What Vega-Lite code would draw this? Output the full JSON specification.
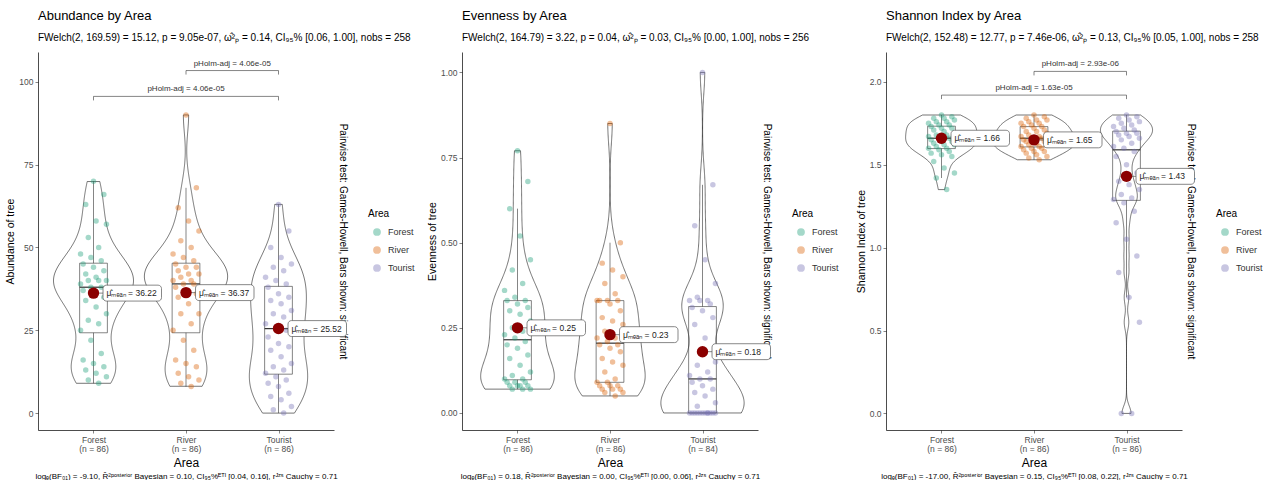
{
"$schema": "https://vega.github.io/schema/vega-lite/v6.json",
"padding": {"left": 5, "top": 10, "right": 0, "bottom": 0},
"autosize": {"type": "pad"},
"background": "white",
"bounds": "flush",
"spacing": 128,
"resolve": {"scale": {"color": "independent"}, "legend": {"color": "independent"}},
"datasets": {
"abund": [
{"a":"Forest","v":9},{"a":"Forest","v":10},{"a":"Forest","v":11},{"a":"Forest","v":12},{"a":"Forest","v":13},{"a":"Forest","v":14},{"a":"Forest","v":15},{"a":"Forest","v":16},{"a":"Forest","v":18},{"a":"Forest","v":22},{"a":"Forest","v":25},{"a":"Forest","v":27},{"a":"Forest","v":28},{"a":"Forest","v":30},{"a":"Forest","v":32},{"a":"Forest","v":34},{"a":"Forest","v":35},{"a":"Forest","v":36},{"a":"Forest","v":37},{"a":"Forest","v":38},{"a":"Forest","v":38},{"a":"Forest","v":39},{"a":"Forest","v":40},{"a":"Forest","v":40},{"a":"Forest","v":40},{"a":"Forest","v":41},{"a":"Forest","v":42},{"a":"Forest","v":43},{"a":"Forest","v":44},{"a":"Forest","v":45},{"a":"Forest","v":46},{"a":"Forest","v":47},{"a":"Forest","v":48},{"a":"Forest","v":50},{"a":"Forest","v":53},{"a":"Forest","v":57},{"a":"Forest","v":58},{"a":"Forest","v":63},{"a":"Forest","v":66},{"a":"Forest","v":70},
{"a":"River","v":8},{"a":"River","v":9},{"a":"River","v":10},{"a":"River","v":11},{"a":"River","v":12},{"a":"River","v":14},{"a":"River","v":15},{"a":"River","v":16},{"a":"River","v":19},{"a":"River","v":22},{"a":"River","v":25},{"a":"River","v":27},{"a":"River","v":30},{"a":"River","v":30},{"a":"River","v":33},{"a":"River","v":35},{"a":"River","v":36},{"a":"River","v":37},{"a":"River","v":38},{"a":"River","v":39},{"a":"River","v":39},{"a":"River","v":40},{"a":"River","v":40},{"a":"River","v":41},{"a":"River","v":42},{"a":"River","v":42},{"a":"River","v":43},{"a":"River","v":44},{"a":"River","v":44},{"a":"River","v":45},{"a":"River","v":46},{"a":"River","v":47},{"a":"River","v":48},{"a":"River","v":50},{"a":"River","v":52},{"a":"River","v":55},{"a":"River","v":58},{"a":"River","v":62},{"a":"River","v":68},{"a":"River","v":90},
{"a":"Tourist","v":0},{"a":"Tourist","v":1},{"a":"Tourist","v":2},{"a":"Tourist","v":4},{"a":"Tourist","v":5},{"a":"Tourist","v":6},{"a":"Tourist","v":8},{"a":"Tourist","v":9},{"a":"Tourist","v":10},{"a":"Tourist","v":11},{"a":"Tourist","v":12},{"a":"Tourist","v":13},{"a":"Tourist","v":14},{"a":"Tourist","v":15},{"a":"Tourist","v":17},{"a":"Tourist","v":19},{"a":"Tourist","v":20},{"a":"Tourist","v":21},{"a":"Tourist","v":23},{"a":"Tourist","v":25},{"a":"Tourist","v":26},{"a":"Tourist","v":27},{"a":"Tourist","v":29},{"a":"Tourist","v":30},{"a":"Tourist","v":31},{"a":"Tourist","v":33},{"a":"Tourist","v":34},{"a":"Tourist","v":35},{"a":"Tourist","v":36},{"a":"Tourist","v":38},{"a":"Tourist","v":39},{"a":"Tourist","v":40},{"a":"Tourist","v":41},{"a":"Tourist","v":43},{"a":"Tourist","v":44},{"a":"Tourist","v":45},{"a":"Tourist","v":47},{"a":"Tourist","v":50},{"a":"Tourist","v":55},{"a":"Tourist","v":63}
],
"even": [
{"a":"Forest","v":0.07},{"a":"Forest","v":0.07},{"a":"Forest","v":0.07},{"a":"Forest","v":0.08},{"a":"Forest","v":0.08},{"a":"Forest","v":0.08},{"a":"Forest","v":0.08},{"a":"Forest","v":0.09},{"a":"Forest","v":0.09},{"a":"Forest","v":0.09},{"a":"Forest","v":0.10},{"a":"Forest","v":0.10},{"a":"Forest","v":0.11},{"a":"Forest","v":0.12},{"a":"Forest","v":0.14},{"a":"Forest","v":0.16},{"a":"Forest","v":0.17},{"a":"Forest","v":0.19},{"a":"Forest","v":0.20},{"a":"Forest","v":0.21},{"a":"Forest","v":0.22},{"a":"Forest","v":0.23},{"a":"Forest","v":0.24},{"a":"Forest","v":0.25},{"a":"Forest","v":0.27},{"a":"Forest","v":0.29},{"a":"Forest","v":0.30},{"a":"Forest","v":0.31},{"a":"Forest","v":0.32},{"a":"Forest","v":0.33},{"a":"Forest","v":0.33},{"a":"Forest","v":0.34},{"a":"Forest","v":0.36},{"a":"Forest","v":0.38},{"a":"Forest","v":0.42},{"a":"Forest","v":0.45},{"a":"Forest","v":0.52},{"a":"Forest","v":0.60},{"a":"Forest","v":0.68},{"a":"Forest","v":0.77},
{"a":"River","v":0.05},{"a":"River","v":0.06},{"a":"River","v":0.06},{"a":"River","v":0.07},{"a":"River","v":0.07},{"a":"River","v":0.07},{"a":"River","v":0.08},{"a":"River","v":0.08},{"a":"River","v":0.08},{"a":"River","v":0.09},{"a":"River","v":0.09},{"a":"River","v":0.10},{"a":"River","v":0.12},{"a":"River","v":0.14},{"a":"River","v":0.15},{"a":"River","v":0.16},{"a":"River","v":0.18},{"a":"River","v":0.19},{"a":"River","v":0.20},{"a":"River","v":0.20},{"a":"River","v":0.21},{"a":"River","v":0.22},{"a":"River","v":0.22},{"a":"River","v":0.24},{"a":"River","v":0.26},{"a":"River","v":0.27},{"a":"River","v":0.28},{"a":"River","v":0.30},{"a":"River","v":0.32},{"a":"River","v":0.33},{"a":"River","v":0.33},{"a":"River","v":0.33},{"a":"River","v":0.33},{"a":"River","v":0.35},{"a":"River","v":0.38},{"a":"River","v":0.40},{"a":"River","v":0.42},{"a":"River","v":0.44},{"a":"River","v":0.50},{"a":"River","v":0.85},
{"a":"Tourist","v":0},{"a":"Tourist","v":0},{"a":"Tourist","v":0},{"a":"Tourist","v":0},{"a":"Tourist","v":0},{"a":"Tourist","v":0},{"a":"Tourist","v":0},{"a":"Tourist","v":0},{"a":"Tourist","v":0},{"a":"Tourist","v":0},{"a":"Tourist","v":0},{"a":"Tourist","v":0},{"a":"Tourist","v":0.02},{"a":"Tourist","v":0.03},{"a":"Tourist","v":0.05},{"a":"Tourist","v":0.06},{"a":"Tourist","v":0.07},{"a":"Tourist","v":0.08},{"a":"Tourist","v":0.09},{"a":"Tourist","v":0.10},{"a":"Tourist","v":0.10},{"a":"Tourist","v":0.11},{"a":"Tourist","v":0.12},{"a":"Tourist","v":0.14},{"a":"Tourist","v":0.15},{"a":"Tourist","v":0.22},{"a":"Tourist","v":0.26},{"a":"Tourist","v":0.28},{"a":"Tourist","v":0.30},{"a":"Tourist","v":0.31},{"a":"Tourist","v":0.32},{"a":"Tourist","v":0.33},{"a":"Tourist","v":0.33},{"a":"Tourist","v":0.33},{"a":"Tourist","v":0.34},{"a":"Tourist","v":0.38},{"a":"Tourist","v":0.45},{"a":"Tourist","v":0.55},{"a":"Tourist","v":0.67},{"a":"Tourist","v":1.00}
],
"shan": [
{"a":"Forest","v":1.35},{"a":"Forest","v":1.42},{"a":"Forest","v":1.45},{"a":"Forest","v":1.48},{"a":"Forest","v":1.52},{"a":"Forest","v":1.55},{"a":"Forest","v":1.56},{"a":"Forest","v":1.57},{"a":"Forest","v":1.58},{"a":"Forest","v":1.59},{"a":"Forest","v":1.60},{"a":"Forest","v":1.60},{"a":"Forest","v":1.61},{"a":"Forest","v":1.62},{"a":"Forest","v":1.62},{"a":"Forest","v":1.63},{"a":"Forest","v":1.64},{"a":"Forest","v":1.64},{"a":"Forest","v":1.65},{"a":"Forest","v":1.66},{"a":"Forest","v":1.66},{"a":"Forest","v":1.67},{"a":"Forest","v":1.68},{"a":"Forest","v":1.68},{"a":"Forest","v":1.69},{"a":"Forest","v":1.70},{"a":"Forest","v":1.71},{"a":"Forest","v":1.72},{"a":"Forest","v":1.72},{"a":"Forest","v":1.73},{"a":"Forest","v":1.74},{"a":"Forest","v":1.74},{"a":"Forest","v":1.75},{"a":"Forest","v":1.76},{"a":"Forest","v":1.76},{"a":"Forest","v":1.77},{"a":"Forest","v":1.78},{"a":"Forest","v":1.78},{"a":"Forest","v":1.79},{"a":"Forest","v":1.80},
{"a":"River","v":1.53},{"a":"River","v":1.54},{"a":"River","v":1.55},{"a":"River","v":1.56},{"a":"River","v":1.57},{"a":"River","v":1.58},{"a":"River","v":1.58},{"a":"River","v":1.59},{"a":"River","v":1.60},{"a":"River","v":1.60},{"a":"River","v":1.61},{"a":"River","v":1.61},{"a":"River","v":1.62},{"a":"River","v":1.63},{"a":"River","v":1.63},{"a":"River","v":1.64},{"a":"River","v":1.64},{"a":"River","v":1.65},{"a":"River","v":1.65},{"a":"River","v":1.66},{"a":"River","v":1.66},{"a":"River","v":1.67},{"a":"River","v":1.67},{"a":"River","v":1.68},{"a":"River","v":1.69},{"a":"River","v":1.70},{"a":"River","v":1.70},{"a":"River","v":1.71},{"a":"River","v":1.72},{"a":"River","v":1.73},{"a":"River","v":1.73},{"a":"River","v":1.74},{"a":"River","v":1.75},{"a":"River","v":1.75},{"a":"River","v":1.76},{"a":"River","v":1.77},{"a":"River","v":1.77},{"a":"River","v":1.78},{"a":"River","v":1.79},{"a":"River","v":1.80},
{"a":"Tourist","v":0},{"a":"Tourist","v":0},{"a":"Tourist","v":0.55},{"a":"Tourist","v":0.70},{"a":"Tourist","v":0.85},{"a":"Tourist","v":0.95},{"a":"Tourist","v":1.05},{"a":"Tourist","v":1.15},{"a":"Tourist","v":1.22},{"a":"Tourist","v":1.27},{"a":"Tourist","v":1.29},{"a":"Tourist","v":1.30},{"a":"Tourist","v":1.32},{"a":"Tourist","v":1.35},{"a":"Tourist","v":1.38},{"a":"Tourist","v":1.40},{"a":"Tourist","v":1.45},{"a":"Tourist","v":1.50},{"a":"Tourist","v":1.55},{"a":"Tourist","v":1.58},{"a":"Tourist","v":1.60},{"a":"Tourist","v":1.61},{"a":"Tourist","v":1.63},{"a":"Tourist","v":1.65},{"a":"Tourist","v":1.66},{"a":"Tourist","v":1.67},{"a":"Tourist","v":1.68},{"a":"Tourist","v":1.69},{"a":"Tourist","v":1.69},{"a":"Tourist","v":1.70},{"a":"Tourist","v":1.71},{"a":"Tourist","v":1.72},{"a":"Tourist","v":1.73},{"a":"Tourist","v":1.74},{"a":"Tourist","v":1.75},{"a":"Tourist","v":1.76},{"a":"Tourist","v":1.77},{"a":"Tourist","v":1.78},{"a":"Tourist","v":1.79},{"a":"Tourist","v":1.80}
],
"means": [
{"p":"A","a":"Forest","m":36.22},{"p":"A","a":"River","m":36.37},{"p":"A","a":"Tourist","m":25.52},
{"p":"E","a":"Forest","m":0.25},{"p":"E","a":"River","m":0.23},{"p":"E","a":"Tourist","m":0.18},
{"p":"S","a":"Forest","m":1.66},{"p":"S","a":"River","m":1.65},{"p":"S","a":"Tourist","m":1.43}
],
"brackets": [
{"p":"A","from":"River","to":"Tourist","yb":103.4,"lab":"pHolm-adj = 4.06e-05"},
{"p":"A","from":"Forest","to":"Tourist","yb":95.6,"lab":"pHolm-adj = 4.06e-05"},
{"p":"S","from":"River","to":"Tourist","yb":2.063,"lab":"pHolm-adj = 2.93e-06"},
{"p":"S","from":"Forest","to":"Tourist","yb":1.92,"lab":"pHolm-adj = 1.63e-05"}
]
},
"hconcat": [
{
"width": 296, "height": 378,
"title": {"text": "Abundance by Area", "subtitle": "FWelch(2, 169.59) = 15.12, p = 9.05e-07, ω̂²ₚ = 0.14, CI₉₅% [0.06, 1.00], nobs = 258"},
"data": {"name": "abund"},
"resolve": {"axis": {"x": "independent", "y": "independent"}},
"layer": [
{
"transform": [
{"joinaggregate": [{"op": "min", "field": "v", "as": "lo"}, {"op": "max", "field": "v", "as": "hi"}], "groupby": ["a"]},
{"density": "v", "groupby": ["a", "lo", "hi"], "bandwidth": 5.5, "steps": 300, "as": ["v", "d"]},
{"filter": "datum.v >= datum.lo && datum.v <= datum.hi"},
{"joinaggregate": [{"op": "max", "field": "d", "as": "md"}]},
{"calculate": "indexof(['Forest','River','Tourist'], datum.a) + 1", "as": "g"},
{"calculate": "datum.g - 0.45 * datum.d / datum.md", "as": "xl"},
{"calculate": "datum.g + 0.45 * datum.d / datum.md", "as": "xr"}
],
"mark": {"type": "area", "orient": "horizontal", "fillOpacity": 0, "stroke": "#1a1a1a", "strokeWidth": 0.6},
"encoding": {"y": {"field": "v", "type": "quantitative", "axis": null}, "x": {"field": "xl", "type": "quantitative", "axis": null}, "x2": {"field": "xr"}, "detail": {"field": "a"}}
},
{
"transform": [
{"joinaggregate": [{"op": "q1", "field": "v", "as": "q1"}, {"op": "median", "field": "v", "as": "med"}, {"op": "q3", "field": "v", "as": "q3"}], "groupby": ["a"]},
{"filter": "datum.v >= datum.q1 - 1.5*(datum.q3-datum.q1) && datum.v <= datum.q3 + 1.5*(datum.q3-datum.q1)"},
{"aggregate": [{"op": "min", "field": "v", "as": "lo"}, {"op": "max", "field": "v", "as": "hi"}, {"op": "max", "field": "q1", "as": "q1"}, {"op": "max", "field": "med", "as": "med"}, {"op": "max", "field": "q3", "as": "q3"}], "groupby": ["a"]},
{"calculate": "indexof(['Forest','River','Tourist'], datum.a) + 1", "as": "g"},
{"calculate": "datum.g - 0.15", "as": "b1"},
{"calculate": "datum.g + 0.15", "as": "b2"}
],
"layer": [
{"mark": {"type": "rect", "fillOpacity": 0, "stroke": "#333", "strokeWidth": 0.6}, "encoding": {"x": {"field": "b1", "type": "quantitative", "axis": null}, "x2": {"field": "b2"}, "y": {"field": "q1", "type": "quantitative", "axis": null}, "y2": {"field": "q3"}}},
{"mark": {"type": "rule", "color": "#333", "strokeWidth": 1.2}, "encoding": {"x": {"field": "b1", "type": "quantitative", "axis": null}, "x2": {"field": "b2"}, "y": {"field": "med", "type": "quantitative", "axis": null}}},
{"mark": {"type": "rule", "color": "#333", "strokeWidth": 0.6}, "encoding": {"x": {"field": "g", "type": "quantitative", "axis": null}, "y": {"field": "lo", "type": "quantitative", "axis": null}, "y2": {"field": "q1"}}},
{"mark": {"type": "rule", "color": "#333", "strokeWidth": 0.6}, "encoding": {"x": {"field": "g", "type": "quantitative", "axis": null}, "y": {"field": "q3", "type": "quantitative", "axis": null}, "y2": {"field": "hi"}}}
]
},
{
"transform": [
{"window": [{"op": "row_number", "as": "i"}], "groupby": ["a"]},
{"calculate": "indexof(['Forest','River','Tourist'], datum.a) + 1", "as": "g"},
{"calculate": "datum.g + ((datum.i * 7) % 11 - 5) * 0.028", "as": "xj"}
],
"mark": {"type": "circle", "size": 30, "opacity": 0.4},
"encoding": {
"x": {"field": "xj", "type": "quantitative", "scale": {"domain": [0.4, 3.6], "nice": false, "zero": false}, "axis": {"values": [1, 2, 3], "title": "Area", "titleFontSize": 12, "titlePadding": 4, "labelLineHeight": 9.5, "labelExpr": "datum.value == 1 ? ['Forest', '(n = 86)'] : datum.value == 2 ? ['River', '(n = 86)'] : ['Tourist', '(n = 86)']"}},
"y": {"field": "v", "type": "quantitative", "scale": {"domain": [-5.1, 109], "nice": false, "zero": false}, "axis": {"values": [0, 25, 50, 75, 100], "title": "Abundance of tree", "titlePadding": 3}},
"color": {"field": "a", "type": "nominal", "scale": {"domain": ["Forest", "River", "Tourist"], "range": ["#1B9E77", "#D95F02", "#7570B3"]}, "legend": {"title": "Area", "orient": "none", "legendX": 330, "legendY": 157}}
}
},
{
"data": {"name": "means"},
"transform": [{"filter": "datum.p == 'A'"}, {"calculate": "indexof(['Forest','River','Tourist'], datum.a) + 1", "as": "g"}],
"mark": {"type": "point", "shape": "M0,0H0.14M0.19,-0.117H0.95A0.05,0.05 0 0 1 1,-0.067V0.067A0.05,0.05 0 0 1 0.95,0.117H0.19A0.05,0.05 0 0 1 0.14,0.067V-0.067A0.05,0.05 0 0 1 0.19,-0.117Z", "size": 18496, "filled": true, "fill": "white", "stroke": "#555", "strokeWidth": 0.7, "opacity": 1},
"encoding": {"x": {"field": "g", "type": "quantitative", "axis": null}, "y": {"field": "m", "type": "quantitative", "axis": null}}
},
{
"data": {"name": "means"},
"transform": [{"filter": "datum.p == 'A'"}, {"calculate": "indexof(['Forest','River','Tourist'], datum.a) + 1", "as": "g"}],
"mark": {"type": "circle", "size": 130, "color": "#8B0000", "opacity": 1},
"encoding": {"x": {"field": "g", "type": "quantitative", "axis": null}, "y": {"field": "m", "type": "quantitative", "axis": null}}
},
{
"data": {"name": "means"},
"transform": [{"filter": "datum.p == 'A'"}, {"calculate": "indexof(['Forest','River','Tourist'], datum.a) + 1", "as": "g"}, {"calculate": "'μ̂ₘₑₐₙ = ' + format(datum.m, '.2f')", "as": "lab"}],
"mark": {"type": "text", "align": "left", "baseline": "middle", "dx": 13, "fontSize": 8.5, "color": "#222"},
"encoding": {
"x": {"field": "g", "type": "quantitative", "axis": {"orient": "bottom", "title": "logₑ(BF₀₁) = -9.10, R̂²ᵖᵒˢᵗᵉʳⁱᵒʳ Bayesian = 0.10, CI₉₅%ᴱᵀᴵ [0.04, 0.16], rᴶᶻˢ Cauchy = 0.71", "labels": false, "ticks": false, "domain": false, "titlePadding": 42, "titleFontSize": 8}},
"y": {"field": "m", "type": "quantitative", "axis": {"orient": "right", "title": "Pairwise test: Games-Howell, Bars shown: significant", "labels": false, "ticks": false, "domain": false, "titlePadding": 3, "titleFontSize": 10, "titleLimit": 500}},
"text": {"field": "lab"}
}
},
{
"data": {"name": "brackets"},
"transform": [{"filter": "datum.p == 'A'"}, {"calculate": "indexof(['Forest','River','Tourist'], datum.from) + 1", "as": "g1"}, {"calculate": "indexof(['Forest','River','Tourist'], datum.to) + 1", "as": "g2"}],
"layer": [
{"mark": {"type": "rule", "color": "#333", "strokeWidth": 0.6}, "encoding": {"x": {"field": "g1", "type": "quantitative", "axis": null}, "x2": {"field": "g2"}, "y": {"field": "yb", "type": "quantitative", "axis": null}}},
{"transform": [{"fold": ["g1", "g2"], "as": ["k", "gx"]}], "mark": {"type": "point", "shape": "M0,0V1", "size": 64, "filled": false, "stroke": "#333", "strokeWidth": 0.6, "opacity": 1}, "encoding": {"x": {"field": "gx", "type": "quantitative", "axis": null}, "y": {"field": "yb", "type": "quantitative", "axis": null}}},
{"transform": [{"calculate": "(datum.g1 + datum.g2) / 2", "as": "xm"}], "mark": {"type": "text", "dy": -7, "fontSize": 8, "color": "#333"}, "encoding": {"x": {"field": "xm", "type": "quantitative", "axis": null}, "y": {"field": "yb", "type": "quantitative", "axis": null}, "text": {"field": "lab"}}}
]
}
]
},
{
"width": 296, "height": 378,
"title": {"text": "Evenness by Area", "subtitle": "FWelch(2, 164.79) = 3.22, p = 0.04, ω̂²ₚ = 0.03, CI₉₅% [0.00, 1.00], nobs = 256"},
"data": {"name": "even"},
"resolve": {"axis": {"x": "independent", "y": "independent"}},
"layer": [
{
"transform": [
{"joinaggregate": [{"op": "min", "field": "v", "as": "lo"}, {"op": "max", "field": "v", "as": "hi"}], "groupby": ["a"]},
{"density": "v", "groupby": ["a", "lo", "hi"], "bandwidth": 0.06, "steps": 300, "as": ["v", "d"]},
{"filter": "datum.v >= datum.lo && datum.v <= datum.hi"},
{"joinaggregate": [{"op": "max", "field": "d", "as": "md"}]},
{"calculate": "indexof(['Forest','River','Tourist'], datum.a) + 1", "as": "g"},
{"calculate": "datum.g - 0.45 * datum.d / datum.md", "as": "xl"},
{"calculate": "datum.g + 0.45 * datum.d / datum.md", "as": "xr"}
],
"mark": {"type": "area", "orient": "horizontal", "fillOpacity": 0, "stroke": "#1a1a1a", "strokeWidth": 0.6},
"encoding": {"y": {"field": "v", "type": "quantitative", "axis": null}, "x": {"field": "xl", "type": "quantitative", "axis": null}, "x2": {"field": "xr"}, "detail": {"field": "a"}}
},
{
"transform": [
{"joinaggregate": [{"op": "q1", "field": "v", "as": "q1"}, {"op": "median", "field": "v", "as": "med"}, {"op": "q3", "field": "v", "as": "q3"}], "groupby": ["a"]},
{"filter": "datum.v >= datum.q1 - 1.5*(datum.q3-datum.q1) && datum.v <= datum.q3 + 1.5*(datum.q3-datum.q1)"},
{"aggregate": [{"op": "min", "field": "v", "as": "lo"}, {"op": "max", "field": "v", "as": "hi"}, {"op": "max", "field": "q1", "as": "q1"}, {"op": "max", "field": "med", "as": "med"}, {"op": "max", "field": "q3", "as": "q3"}], "groupby": ["a"]},
{"calculate": "indexof(['Forest','River','Tourist'], datum.a) + 1", "as": "g"},
{"calculate": "datum.g - 0.15", "as": "b1"},
{"calculate": "datum.g + 0.15", "as": "b2"}
],
"layer": [
{"mark": {"type": "rect", "fillOpacity": 0, "stroke": "#333", "strokeWidth": 0.6}, "encoding": {"x": {"field": "b1", "type": "quantitative", "axis": null}, "x2": {"field": "b2"}, "y": {"field": "q1", "type": "quantitative", "axis": null}, "y2": {"field": "q3"}}},
{"mark": {"type": "rule", "color": "#333", "strokeWidth": 1.2}, "encoding": {"x": {"field": "b1", "type": "quantitative", "axis": null}, "x2": {"field": "b2"}, "y": {"field": "med", "type": "quantitative", "axis": null}}},
{"mark": {"type": "rule", "color": "#333", "strokeWidth": 0.6}, "encoding": {"x": {"field": "g", "type": "quantitative", "axis": null}, "y": {"field": "lo", "type": "quantitative", "axis": null}, "y2": {"field": "q1"}}},
{"mark": {"type": "rule", "color": "#333", "strokeWidth": 0.6}, "encoding": {"x": {"field": "g", "type": "quantitative", "axis": null}, "y": {"field": "q3", "type": "quantitative", "axis": null}, "y2": {"field": "hi"}}}
]
},
{
"transform": [
{"window": [{"op": "row_number", "as": "i"}], "groupby": ["a"]},
{"calculate": "indexof(['Forest','River','Tourist'], datum.a) + 1", "as": "g"},
{"calculate": "datum.g + ((datum.i * 7) % 11 - 5) * 0.028", "as": "xj"}
],
"mark": {"type": "circle", "size": 30, "opacity": 0.4},
"encoding": {
"x": {"field": "xj", "type": "quantitative", "scale": {"domain": [0.4, 3.6], "nice": false, "zero": false}, "axis": {"values": [1, 2, 3], "title": "Area", "titleFontSize": 12, "titlePadding": 4, "labelLineHeight": 9.5, "labelExpr": "datum.value == 1 ? ['Forest', '(n = 86)'] : datum.value == 2 ? ['River', '(n = 86)'] : ['Tourist', '(n = 84)']"}},
"y": {"field": "v", "type": "quantitative", "scale": {"domain": [-0.05, 1.06], "nice": false, "zero": false}, "axis": {"values": [0, 0.25, 0.5, 0.75, 1], "format": ".2f", "title": "Evenness of tree", "titlePadding": 3}},
"color": {"field": "a", "type": "nominal", "scale": {"domain": ["Forest", "River", "Tourist"], "range": ["#1B9E77", "#D95F02", "#7570B3"]}, "legend": {"title": "Area", "orient": "none", "legendX": 330, "legendY": 157}}
}
},
{
"data": {"name": "means"},
"transform": [{"filter": "datum.p == 'E'"}, {"calculate": "indexof(['Forest','River','Tourist'], datum.a) + 1", "as": "g"}],
"mark": {"type": "point", "shape": "M0,0H0.14M0.19,-0.117H0.95A0.05,0.05 0 0 1 1,-0.067V0.067A0.05,0.05 0 0 1 0.95,0.117H0.19A0.05,0.05 0 0 1 0.14,0.067V-0.067A0.05,0.05 0 0 1 0.19,-0.117Z", "size": 18496, "filled": true, "fill": "white", "stroke": "#555", "strokeWidth": 0.7, "opacity": 1},
"encoding": {"x": {"field": "g", "type": "quantitative", "axis": null}, "y": {"field": "m", "type": "quantitative", "axis": null}}
},
{
"data": {"name": "means"},
"transform": [{"filter": "datum.p == 'E'"}, {"calculate": "indexof(['Forest','River','Tourist'], datum.a) + 1", "as": "g"}],
"mark": {"type": "circle", "size": 130, "color": "#8B0000", "opacity": 1},
"encoding": {"x": {"field": "g", "type": "quantitative", "axis": null}, "y": {"field": "m", "type": "quantitative", "axis": null}}
},
{
"data": {"name": "means"},
"transform": [{"filter": "datum.p == 'E'"}, {"calculate": "indexof(['Forest','River','Tourist'], datum.a) + 1", "as": "g"}, {"calculate": "'μ̂ₘₑₐₙ = ' + format(datum.m, '.2f')", "as": "lab"}],
"mark": {"type": "text", "align": "left", "baseline": "middle", "dx": 13, "fontSize": 8.5, "color": "#222"},
"encoding": {
"x": {"field": "g", "type": "quantitative", "axis": {"orient": "bottom", "title": "logₑ(BF₀₁) = 0.18, R̂²ᵖᵒˢᵗᵉʳⁱᵒʳ Bayesian = 0.00, CI₉₅%ᴱᵀᴵ [0.00, 0.06], rᴶᶻˢ Cauchy = 0.71", "labels": false, "ticks": false, "domain": false, "titlePadding": 42, "titleFontSize": 8}},
"y": {"field": "m", "type": "quantitative", "axis": {"orient": "right", "title": "Pairwise test: Games-Howell, Bars shown: significant", "labels": false, "ticks": false, "domain": false, "titlePadding": 3, "titleFontSize": 10, "titleLimit": 500}},
"text": {"field": "lab"}
}
}
]
},
{
"width": 296, "height": 378,
"title": {"text": "Shannon Index by Area", "subtitle": "FWelch(2, 152.48) = 12.77, p = 7.46e-06, ω̂²ₚ = 0.13, CI₉₅% [0.05, 1.00], nobs = 258"},
"data": {"name": "shan"},
"resolve": {"axis": {"x": "independent", "y": "independent"}},
"layer": [
{
"transform": [
{"joinaggregate": [{"op": "min", "field": "v", "as": "lo"}, {"op": "max", "field": "v", "as": "hi"}], "groupby": ["a"]},
{"density": "v", "groupby": ["a", "lo", "hi"], "bandwidth": 0.045, "steps": 400, "as": ["v", "d"]},
{"filter": "datum.v >= datum.lo && datum.v <= datum.hi"},
{"joinaggregate": [{"op": "max", "field": "d", "as": "md"}]},
{"calculate": "indexof(['Forest','River','Tourist'], datum.a) + 1", "as": "g"},
{"calculate": "datum.g - 0.45 * datum.d / datum.md", "as": "xl"},
{"calculate": "datum.g + 0.45 * datum.d / datum.md", "as": "xr"}
],
"mark": {"type": "area", "orient": "horizontal", "fillOpacity": 0, "stroke": "#1a1a1a", "strokeWidth": 0.6},
"encoding": {"y": {"field": "v", "type": "quantitative", "axis": null}, "x": {"field": "xl", "type": "quantitative", "axis": null}, "x2": {"field": "xr"}, "detail": {"field": "a"}}
},
{
"transform": [
{"joinaggregate": [{"op": "q1", "field": "v", "as": "q1"}, {"op": "median", "field": "v", "as": "med"}, {"op": "q3", "field": "v", "as": "q3"}], "groupby": ["a"]},
{"filter": "datum.v >= datum.q1 - 1.5*(datum.q3-datum.q1) && datum.v <= datum.q3 + 1.5*(datum.q3-datum.q1)"},
{"aggregate": [{"op": "min", "field": "v", "as": "lo"}, {"op": "max", "field": "v", "as": "hi"}, {"op": "max", "field": "q1", "as": "q1"}, {"op": "max", "field": "med", "as": "med"}, {"op": "max", "field": "q3", "as": "q3"}], "groupby": ["a"]},
{"calculate": "indexof(['Forest','River','Tourist'], datum.a) + 1", "as": "g"},
{"calculate": "datum.g - 0.15", "as": "b1"},
{"calculate": "datum.g + 0.15", "as": "b2"}
],
"layer": [
{"mark": {"type": "rect", "fillOpacity": 0, "stroke": "#333", "strokeWidth": 0.6}, "encoding": {"x": {"field": "b1", "type": "quantitative", "axis": null}, "x2": {"field": "b2"}, "y": {"field": "q1", "type": "quantitative", "axis": null}, "y2": {"field": "q3"}}},
{"mark": {"type": "rule", "color": "#333", "strokeWidth": 1.2}, "encoding": {"x": {"field": "b1", "type": "quantitative", "axis": null}, "x2": {"field": "b2"}, "y": {"field": "med", "type": "quantitative", "axis": null}}},
{"mark": {"type": "rule", "color": "#333", "strokeWidth": 0.6}, "encoding": {"x": {"field": "g", "type": "quantitative", "axis": null}, "y": {"field": "lo", "type": "quantitative", "axis": null}, "y2": {"field": "q1"}}},
{"mark": {"type": "rule", "color": "#333", "strokeWidth": 0.6}, "encoding": {"x": {"field": "g", "type": "quantitative", "axis": null}, "y": {"field": "q3", "type": "quantitative", "axis": null}, "y2": {"field": "hi"}}}
]
},
{
"transform": [
{"window": [{"op": "row_number", "as": "i"}], "groupby": ["a"]},
{"calculate": "indexof(['Forest','River','Tourist'], datum.a) + 1", "as": "g"},
{"calculate": "datum.g + ((datum.i * 7) % 11 - 5) * 0.028", "as": "xj"}
],
"mark": {"type": "circle", "size": 30, "opacity": 0.4},
"encoding": {
"x": {"field": "xj", "type": "quantitative", "scale": {"domain": [0.4, 3.6], "nice": false, "zero": false}, "axis": {"values": [1, 2, 3], "title": "Area", "titleFontSize": 12, "titlePadding": 4, "labelLineHeight": 9.5, "labelExpr": "datum.value == 1 ? ['Forest', '(n = 86)'] : datum.value == 2 ? ['River', '(n = 86)'] : ['Tourist', '(n = 86)']"}},
"y": {"field": "v", "type": "quantitative", "scale": {"domain": [-0.1, 2.18], "nice": false, "zero": false}, "axis": {"values": [0, 0.5, 1, 1.5, 2], "format": ".1f", "title": "Shannon Index of tree", "titlePadding": 3}},
"color": {"field": "a", "type": "nominal", "scale": {"domain": ["Forest", "River", "Tourist"], "range": ["#1B9E77", "#D95F02", "#7570B3"]}, "legend": {"title": "Area", "orient": "none", "legendX": 330, "legendY": 157}}
}
},
{
"data": {"name": "means"},
"transform": [{"filter": "datum.p == 'S'"}, {"calculate": "indexof(['Forest','River','Tourist'], datum.a) + 1", "as": "g"}],
"mark": {"type": "point", "shape": "M0,0H0.14M0.19,-0.117H0.95A0.05,0.05 0 0 1 1,-0.067V0.067A0.05,0.05 0 0 1 0.95,0.117H0.19A0.05,0.05 0 0 1 0.14,0.067V-0.067A0.05,0.05 0 0 1 0.19,-0.117Z", "size": 18496, "filled": true, "fill": "white", "stroke": "#555", "strokeWidth": 0.7, "opacity": 1},
"encoding": {"x": {"field": "g", "type": "quantitative", "axis": null}, "y": {"field": "m", "type": "quantitative", "axis": null}}
},
{
"data": {"name": "means"},
"transform": [{"filter": "datum.p == 'S'"}, {"calculate": "indexof(['Forest','River','Tourist'], datum.a) + 1", "as": "g"}],
"mark": {"type": "circle", "size": 130, "color": "#8B0000", "opacity": 1},
"encoding": {"x": {"field": "g", "type": "quantitative", "axis": null}, "y": {"field": "m", "type": "quantitative", "axis": null}}
},
{
"data": {"name": "means"},
"transform": [{"filter": "datum.p == 'S'"}, {"calculate": "indexof(['Forest','River','Tourist'], datum.a) + 1", "as": "g"}, {"calculate": "'μ̂ₘₑₐₙ = ' + format(datum.m, '.2f')", "as": "lab"}],
"mark": {"type": "text", "align": "left", "baseline": "middle", "dx": 13, "fontSize": 8.5, "color": "#222"},
"encoding": {
"x": {"field": "g", "type": "quantitative", "axis": {"orient": "bottom", "title": "logₑ(BF₀₁) = -17.00, R̂²ᵖᵒˢᵗᵉʳⁱᵒʳ Bayesian = 0.15, CI₉₅%ᴱᵀᴵ [0.08, 0.22], rᴶᶻˢ Cauchy = 0.71", "labels": false, "ticks": false, "domain": false, "titlePadding": 42, "titleFontSize": 8}},
"y": {"field": "m", "type": "quantitative", "axis": {"orient": "right", "title": "Pairwise test: Games-Howell, Bars shown: significant", "labels": false, "ticks": false, "domain": false, "titlePadding": 3, "titleFontSize": 10, "titleLimit": 500}},
"text": {"field": "lab"}
}
},
{
"data": {"name": "brackets"},
"transform": [{"filter": "datum.p == 'S'"}, {"calculate": "indexof(['Forest','River','Tourist'], datum.from) + 1", "as": "g1"}, {"calculate": "indexof(['Forest','River','Tourist'], datum.to) + 1", "as": "g2"}],
"layer": [
{"mark": {"type": "rule", "color": "#333", "strokeWidth": 0.6}, "encoding": {"x": {"field": "g1", "type": "quantitative", "axis": null}, "x2": {"field": "g2"}, "y": {"field": "yb", "type": "quantitative", "axis": null}}},
{"transform": [{"fold": ["g1", "g2"], "as": ["k", "gx"]}], "mark": {"type": "point", "shape": "M0,0V1", "size": 64, "filled": false, "stroke": "#333", "strokeWidth": 0.6, "opacity": 1}, "encoding": {"x": {"field": "gx", "type": "quantitative", "axis": null}, "y": {"field": "yb", "type": "quantitative", "axis": null}}},
{"transform": [{"calculate": "(datum.g1 + datum.g2) / 2", "as": "xm"}], "mark": {"type": "text", "dy": -7, "fontSize": 8, "color": "#333"}, "encoding": {"x": {"field": "xm", "type": "quantitative", "axis": null}, "y": {"field": "yb", "type": "quantitative", "axis": null}, "text": {"field": "lab"}}}
]
}
]
}
],
"config": {
"font": "Liberation Sans",
"view": {"stroke": null},
"title": {"anchor": "start", "frame": "group", "fontSize": 13, "fontWeight": "normal", "color": "#000", "subtitleFontSize": 10, "subtitleColor": "#000", "subtitlePadding": 10, "offset": 9},
"axis": {"grid": false, "domainColor": "#000", "domainWidth": 0.7, "tickColor": "#333", "tickSize": 3, "tickWidth": 0.6, "labelColor": "#4d4d4d", "labelFontSize": 8.5, "labelPadding": 2, "titleFontSize": 10.5, "titleFontWeight": "normal", "titleColor": "#000"},
"legend": {"titleFontSize": 10, "titleFontWeight": "normal", "titleColor": "#000", "labelFontSize": 9, "labelColor": "#333", "symbolSize": 60, "rowPadding": 8, "symbolOffset": 4, "labelOffset": 6, "titlePadding": 8, "padding": 0}
}
}
